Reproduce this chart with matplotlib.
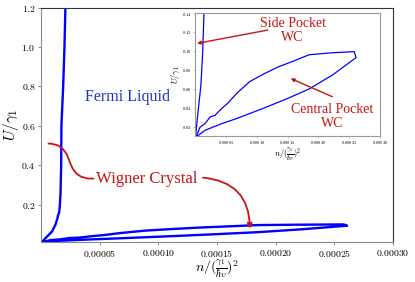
import matplotlib
matplotlib.use("Agg")
import matplotlib.pyplot as plt
from matplotlib.ticker import FuncFormatter

plt.rcParams['font.family'] = ['Liberation Serif', 'DejaVu Serif']
plt.rcParams['mathtext.fontset'] = 'cm'

# side pocket boundary (n, U)
side_n = [0.000001, 0.0000053, 0.0000095, 0.0000123, 0.000014, 0.0000145,
          0.0000155, 0.000016, 0.0000166, 0.0000172, 0.0000174, 0.0000189,
          0.00002, 0.0000208]
side_u = [0.011, 0.0387, 0.064, 0.098, 0.13, 0.145,
          0.16, 0.191, 0.25, 0.4, 0.6, 0.8,
          1.0, 1.2]

# central pocket loop (n, U)
central_n = [0.000001, 0.0000027, 0.0000081, 0.0000161, 0.0000242, 0.0000323,
             0.000043, 0.0000532, 0.0000673, 0.0000887, 0.000112, 0.000134,
             0.00016, 0.000185, 0.00022, 0.000258, 0.000261,
             0.000223, 0.000185, 0.00015, 0.00012, 0.0000887, 0.0000672,
             0.0000403, 0.0000161, 0.0000054, 0.000001]
central_u = [0.010, 0.0111, 0.0198, 0.0233, 0.0304, 0.0322,
             0.0393, 0.045, 0.0553, 0.0678, 0.076, 0.083,
             0.0895, 0.096, 0.098, 0.0993, 0.093,
             0.0748, 0.060, 0.050, 0.042, 0.0341, 0.0288,
             0.0227, 0.0164, 0.0111, 0.010]

main_xticks = [0.00005, 0.0001, 0.00015, 0.0002, 0.00025, 0.0003]
main_yticks = [0.2, 0.4, 0.6, 0.8, 1.0, 1.2]
inset_xticks = [0.00005, 0.0001, 0.00015, 0.0002, 0.00025, 0.0003]
inset_yticks = [0.02, 0.04, 0.06, 0.08, 0.10, 0.12, 0.14]

RED = '#c81414'
BLUE = '#0000ff'

fig = plt.figure(figsize=(4.15, 2.82), dpi=100)
ax = fig.add_axes([0.0988, 0.1418, 0.848, 0.831])

ax.plot(side_n, side_u, color=BLUE, lw=1.7)
ax.plot(central_n, central_u, color=BLUE, lw=1.7)
ax.set_xlim(0, 0.0003)
ax.set_ylim(0.01, 1.2)
ax.set_xticks(main_xticks)
ax.set_yticks(main_yticks)
ax.xaxis.set_major_formatter(FuncFormatter(lambda v, p: r'$%.5f$' % v))
ax.yaxis.set_major_formatter(FuncFormatter(lambda v, p: r'$%.1f$' % v))
ax.tick_params(labelsize=7, length=2.5, width=0.6, color='#777777', pad=1.5)
ax.set_ylabel(r'$U/\gamma_1$', fontsize=11, labelpad=0)
ax.set_xlabel(r'$n/(\frac{\gamma_1}{\hbar v})^2$', fontsize=10, labelpad=-1)
for side in ['left', 'bottom']:
    ax.spines[side].set_color('#888888')
for side in ['top', 'right']:
    ax.spines[side].set_color('#333333')

ax.text(0.000074, 0.745, 'Fermi Liquid', color='#2030c8', fontsize=11.5,
        ha='center', va='center')
ax.text(0.0000905, 0.332, 'Wigner Crystal', color=RED, fontsize=12,
        ha='center', va='center')
ax.annotate('', xy=(0.0000064, 0.51), xytext=(0.0000447, 0.332),
            arrowprops=dict(arrowstyle='-|>', color=RED, lw=1.3,
                            mutation_scale=7, shrinkA=0, shrinkB=0,
                            connectionstyle='arc,angleA=180,angleB=0,armA=17,armB=14,rad=14'))
ax.annotate('', xy=(0.000178, 0.078), xytext=(0.000138, 0.337),
            arrowprops=dict(arrowstyle='-|>', color=RED, lw=1.3,
                            mutation_scale=7, shrinkA=0, shrinkB=0,
                            connectionstyle='arc3,rad=-0.45'))

# inset
axi = fig.add_axes([0.470, 0.5163, 0.446, 0.4376])
axi.plot(side_n, side_u, color=BLUE, lw=0.9)
axi.plot(central_n, central_u, color=BLUE, lw=0.9)
axi.set_xlim(0, 0.0003)
axi.set_ylim(0.01, 0.14)
axi.set_xticks(inset_xticks)
axi.set_yticks(inset_yticks)
axi.xaxis.set_major_formatter(FuncFormatter(lambda v, p: r'$%.5f$' % v))
axi.yaxis.set_major_formatter(FuncFormatter(lambda v, p: r'$%.2f$' % v))
axi.tick_params(labelsize=3.2, length=1.2, width=0.4, color='#999999', pad=1)
axi.set_ylabel(r'$U/\gamma_1$', fontsize=6, labelpad=0)
axi.set_xlabel(r'$n/(\frac{\gamma_1}{\hbar v})^2$', fontsize=6, labelpad=0)
for side in axi.spines:
    axi.spines[side].set_color('#999999')

axi.text(0.000158, 0.122, 'Side Pocket\nWC', color=RED, fontsize=10,
         ha='center', va='center', linespacing=1.1)
axi.annotate('', xy=(0.0000032, 0.108), xytext=(0.0001177, 0.122),
             arrowprops=dict(arrowstyle='-|>', color=RED, lw=1.0,
                             mutation_scale=5, shrinkA=0, shrinkB=0))
axi.text(0.0002226, 0.0305, 'Central Pocket\nWC', color=RED, fontsize=10,
         ha='center', va='center', linespacing=1.1)
axi.annotate('', xy=(0.000155, 0.071), xytext=(0.0002226, 0.0518),
             arrowprops=dict(arrowstyle='-|>', color=RED, lw=1.0,
                             mutation_scale=5, shrinkA=0, shrinkB=0))

fig.savefig('out.png', dpi=100)
